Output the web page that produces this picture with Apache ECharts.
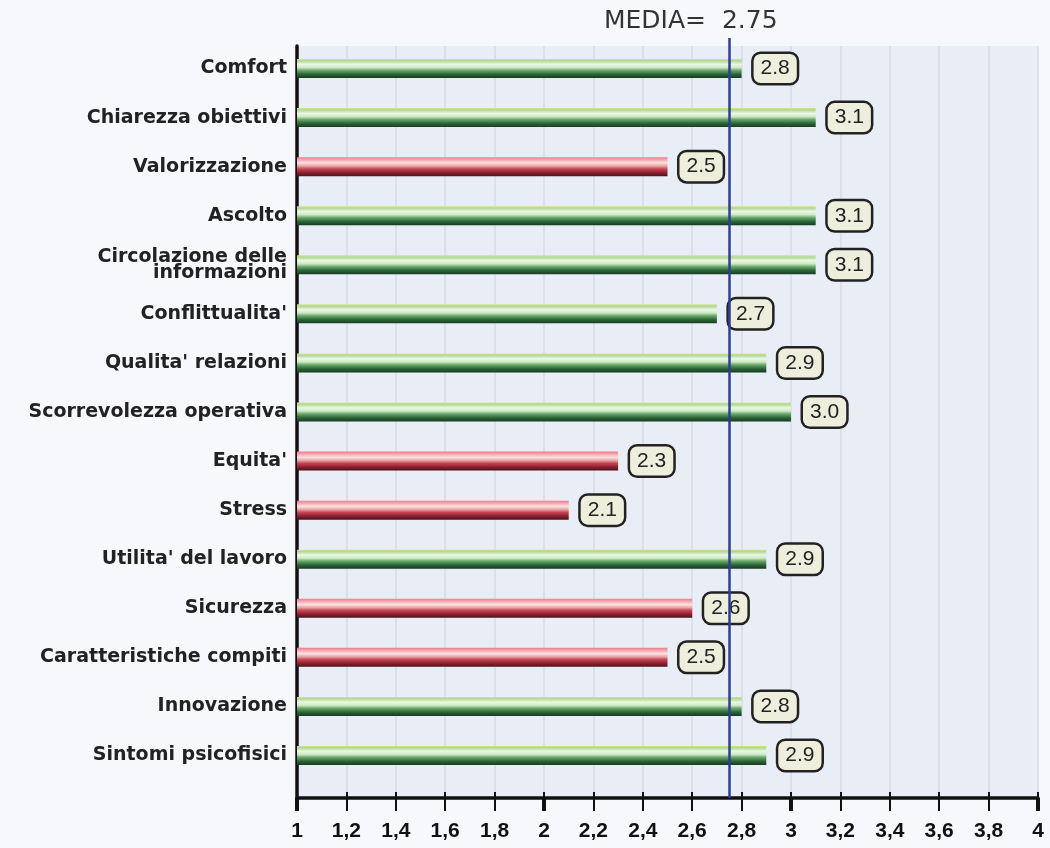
<!DOCTYPE html>
<html>
<head>
<meta charset="utf-8">
<script src="https://cdn.jsdelivr.net/npm/echarts@6/dist/echarts.min.js"></script>
<style>
html,body{margin:0;padding:0;background:#f6f8fb;}
#chart{width:1050px;height:848px;}
</style>
</head>
<body>
<div id="chart"></div>
<script>
const categories = ['Comfort','Chiarezza obiettivi','Valorizzazione','Ascolto','Circolazione delle\ninformazioni',"Conflittualita'","Qualita' relazioni",'Scorrevolezza operativa',"Equita'",'Stress',"Utilita' del lavoro",'Sicurezza','Caratteristiche compiti','Innovazione','Sintomi psicofisici'];
const values = [2.8, 3.1, 2.5, 3.1, 3.1, 2.7, 2.9, 3.0, 2.3, 2.1, 2.9, 2.6, 2.5, 2.8, 2.9];
const critical = [false, false, true, false, false, false, false, false, true, true, false, true, true, false, false];
const mean = 2.75;
const axisMin = 1, axisMax = 4, axisStep = 0.2, majorStep = 1;

const greenGrad = {type:'linear',x:0,y:0,x2:0,y2:1,colorStops:[
  {offset:0,color:'#d2e48a'},{offset:0.1,color:'#b2d69a'},{offset:0.28,color:'#eaf8e4'},
  {offset:0.45,color:'#cde8c4'},{offset:0.6,color:'#6aa86a'},{offset:0.8,color:'#2c6638'},{offset:1,color:'#183a22'}]};
const redGrad = {type:'linear',x:0,y:0,x2:0,y2:1,colorStops:[
  {offset:0,color:'#f27a8c'},{offset:0.12,color:'#f4a2aa'},{offset:0.3,color:'#fbe2e0'},
  {offset:0.46,color:'#eaa6a6'},{offset:0.62,color:'#c64454'},{offset:0.82,color:'#8a2030'},{offset:1,color:'#4a1216'}]};

const gridBox = {left:297, right:12};
const chart = echarts.init(document.getElementById('chart'));
chart.setOption({
  backgroundColor:'#f6f8fb',
  animation:false,
  title:{text:'MEDIA=  ' + mean.toFixed(2), left:604, top:9, padding:0,
    textStyle:{fontFamily:'DejaVu Sans', fontSize:25, fontWeight:'normal', color:'#333'}},
  grid:[
    Object.assign({top:44, bottom:68}, gridBox),
    Object.assign({top:38, bottom:50}, gridBox),
    Object.assign({top:46, bottom:50, show:true, backgroundColor:'#e9eef6', borderWidth:0}, gridBox),
    Object.assign({top:46, bottom:50}, gridBox)
  ],
  xAxis:[
    {gridIndex:0, type:'value', min:axisMin, max:axisMax, interval:axisStep, show:false},
    {gridIndex:1, type:'value', min:axisMin, max:axisMax, interval:axisStep,
      axisLine:{show:true, lineStyle:{color:'#111', width:3.5}},
      axisTick:{show:true, inside:true, length:6, lineStyle:{color:'#111', width:2}},
      splitLine:{show:false},
      axisLabel:{margin:23, color:'#111', fontFamily:'Liberation Sans, Arial', fontWeight:'bold', fontSize:21,
        formatter:v => String(Math.round(v*10)/10).replace('.', ',')}},
    {gridIndex:2, type:'value', min:axisMin, max:axisMax, interval:axisStep,
      axisLine:{show:false},
      axisTick:{show:true, inside:false, length:13, lineStyle:{color:'#111', width:2}},
      axisLabel:{show:false},
      splitLine:{show:true, lineStyle:{color:'#d3dcea', width:1.5}}},
    {gridIndex:3, type:'value', min:axisMin, max:axisMax, interval:majorStep,
      axisLine:{show:false},
      axisTick:{show:true, inside:false, length:13, lineStyle:{color:'#111', width:4}},
      axisLabel:{show:false}, splitLine:{show:false}}
  ],
  yAxis:[
    {gridIndex:0, type:'category', data:categories, inverse:true,
      axisLine:{show:false}, axisTick:{show:false}, splitLine:{show:false},
      axisLabel:{margin:10, color:'#222', fontFamily:'DejaVu Sans', fontWeight:'bold', fontSize:19, lineHeight:16, align:'right'}},
    {gridIndex:1, type:'value', min:0, max:1, show:false},
    {gridIndex:2, type:'value', min:0, max:1, splitLine:{show:false},
      axisLine:{show:true, lineStyle:{color:'#111', width:3.5}}, axisTick:{show:false}, axisLabel:{show:false}},
    {gridIndex:3, type:'value', min:0, max:1, show:false}
  ],
  series:[
    {type:'bar', xAxisIndex:0, yAxisIndex:0, barWidth:19,
      data: values.map((v,i) => ({value:v, itemStyle:{color: critical[i] ? redGrad : greenGrad}})),
      label:{show:true, position:'right', distance:12,
        formatter: p => Number(p.value).toFixed(1),
        fontFamily:'Liberation Sans, Arial', fontSize:21, color:'#222',
        backgroundColor:'#eeeedc', borderColor:'#222', borderWidth:2.5, borderRadius:7,
        padding:[5,7,3,7]}},
    {type:'line', xAxisIndex:1, yAxisIndex:1, data:[], z:5,
      markLine:{silent:true, symbol:'none', label:{show:false},
        lineStyle:{color:'#2c3c9c', width:2.5, type:'solid'},
        data:[{xAxis:mean}]}}
  ]
});
</script>
</body>
</html>
